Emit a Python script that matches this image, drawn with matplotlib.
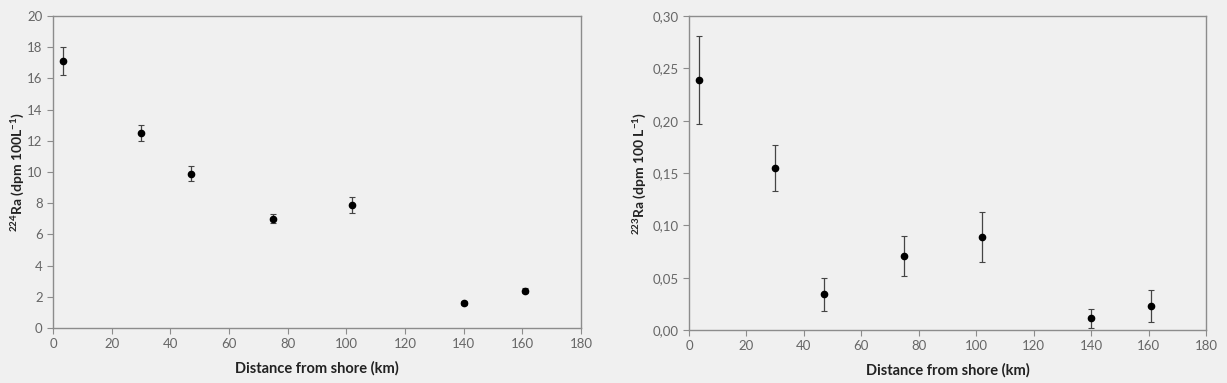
import numpy as np
import matplotlib.pyplot as plt
from matplotlib.ticker import FuncFormatter, MultipleLocator

# Data
dist = [3.5, 30, 47, 75, 102, 140, 161]
ra224 = [17.1, 12.5, 9.9, 7.0, 7.9, 1.6, 2.4]
ra224_err = [0.9, 0.5, 0.5, 0.3, 0.5, 0.1, 0.15]
ra223 = [0.239, 0.155, 0.034, 0.071, 0.089, 0.011, 0.023]
ra223_err = [0.042, 0.022, 0.016, 0.019, 0.024, 0.009, 0.015]

plt.rcParams['font.family'] = ['Lato', 'DejaVu Sans']
plt.rcParams['mathtext.fontset'] = 'custom'
plt.rcParams['mathtext.rm'] = 'Lato:bold'
plt.rcParams['mathtext.bf'] = 'Lato:bold'

bg = '#f0f0f0'
spine_col = '#8c8c8c'
tick_col = '#666666'

fig = plt.figure(figsize=(12.27, 3.83), dpi=100, facecolor=bg)
W, H = 1227, 383
ax1 = fig.add_axes([53 / W, 1 - 328 / H, (581 - 53) / W, (328 - 16) / H])
ax2 = fig.add_axes([689 / W, 1 - 330 / H, (1206 - 689) / W, (330 - 16) / H])

panels = [
    (ax1, ra224, ra224_err, 20, 2, lambda v, p: '%d' % v,
     r'$^{224}$Ra (dpm 100L$^{-1}$)', -0.052),
    (ax2, ra223, ra223_err, 0.30, 0.05, lambda v, p: ('%.2f' % v).replace('.', ','),
     r'$^{223}$Ra (dpm 100 L$^{-1}$)', -0.08),
]

for ax, y, err, ymax, ystep, fmt, ylab, ylx in panels:
    ax.set_facecolor(bg)
    ax.errorbar(dist, y, yerr=err, fmt='o', color='black', markersize=4.5,
                ecolor='#444444', elinewidth=0.9, capsize=2, capthick=0.8)
    ax.set_xlim(0, 180)
    ax.set_ylim(0, ymax)
    ax.xaxis.set_major_locator(MultipleLocator(20))
    ax.yaxis.set_major_locator(MultipleLocator(ystep))
    ax.yaxis.set_major_formatter(FuncFormatter(fmt))
    for s in ax.spines.values():
        s.set_color(spine_col)
        s.set_linewidth(1.0)
    ax.tick_params(colors=spine_col, labelcolor=tick_col, labelsize=9.5,
                   length=4, width=0.8, direction='out')
    ax.set_xlabel('Distance from shore (km)', fontsize=10.5, fontweight='bold',
                  color='#222222', labelpad=8)
    ax.set_ylabel(ylab, fontsize=10, fontweight='bold', color='#222222')
    ax.yaxis.set_label_coords(ylx, 0.5)

fig.savefig('out.png', dpi=100, facecolor=bg)
